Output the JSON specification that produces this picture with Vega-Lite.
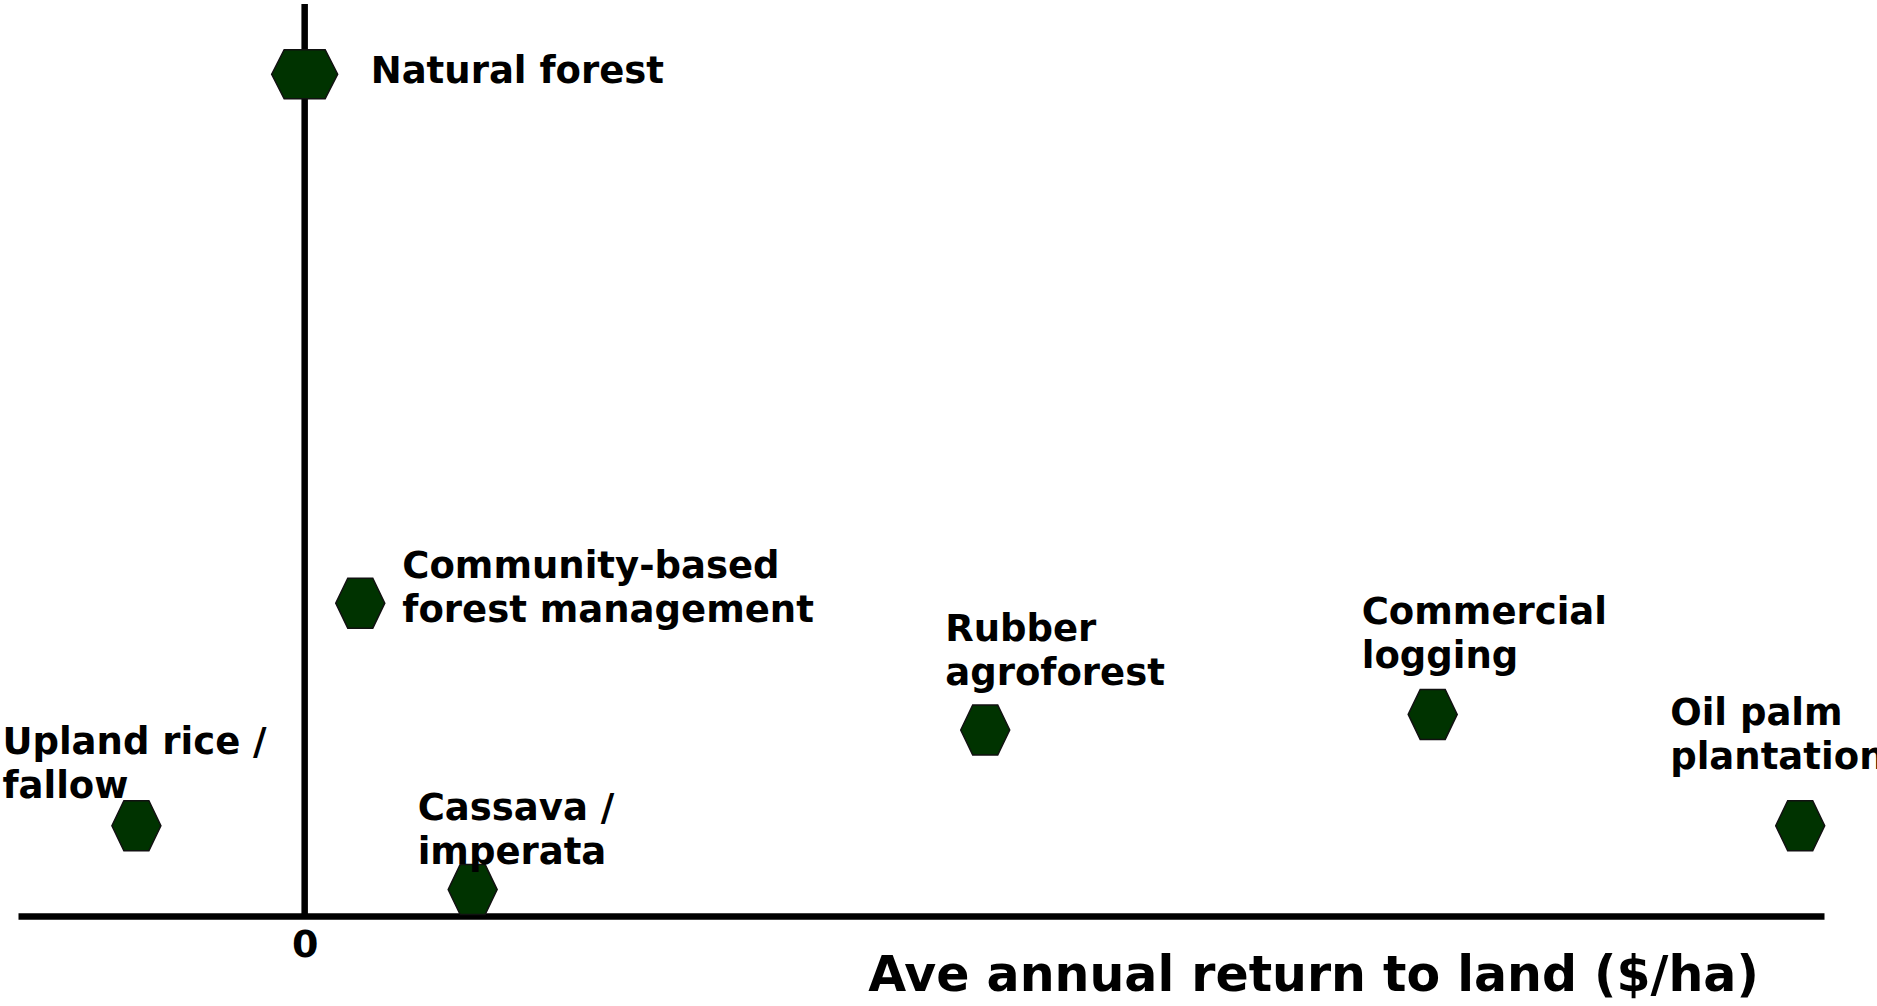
{
  "$schema": "https://vega.github.io/schema/vega-lite/v6.json",
  "width": 1806,
  "height": 912,
  "autosize": {"type": "none"},
  "padding": {"left": 18, "top": 4, "right": 53, "bottom": 90},
  "background": "white",
  "config": {
    "view": {"stroke": null},
    "font": "DejaVu Sans",
    "text": {"font": "DejaVu Sans", "fontWeight": "bold", "fontSize": 37, "lineBreak": "\n", "lineHeight": 44, "align": "left", "baseline": "middle", "color": "black"}
  },
  "data": {
    "values": [
      {"name": "Natural forest", "label": "Natural forest", "x": 0, "y": 92.3},
      {"name": "Community", "label": "Community-based\nforest management", "x": 19.4, "y": 34.3},
      {"name": "Upland", "label": "Upland rice /\nfallow", "x": -58.7, "y": 9.9},
      {"name": "Cassava", "label": "Cassava /\nimperata", "x": 58.6, "y": 2.9},
      {"name": "Rubber", "label": "Rubber\nagroforest", "x": 237.4, "y": 20.4},
      {"name": "Commercial", "label": "Commercial\nlogging", "x": 393.5, "y": 22.1},
      {"name": "Oil palm", "label": "Oil palm\nplantation", "x": 521.7, "y": 9.9}
    ]
  },
  "layer": [
    {
      "data": {"values": [{}]},
      "mark": {"type": "rule", "strokeWidth": 6.5, "color": "black"},
      "encoding": {
        "x": {"datum": 0, "type": "quantitative", "scale": {"domain": [-100, 530], "nice": false, "zero": false},
          "axis": {"values": [0], "title": "Ave annual return to land ($/ha)", "domainColor": "black", "domainWidth": 6.5, "ticks": false, "grid": false,
            "labelFontSize": 38, "labelFont": "DejaVu Sans", "labelFontWeight": "bold", "labelColor": "black", "labelPadding": 10,
            "titleFont": "DejaVu Sans", "titleFontSize": 49, "titleFontWeight": "bold", "titleColor": "black", "titleX": 1295, "titleY": 59, "titleAlign": "center", "titleBaseline": "middle"}}
      }
    },
    {
      "transform": [{"filter": "datum.name !== 'Natural forest'"}],
      "mark": {"type": "point", "shape": "M-0.98,0L-0.5,-1L0.5,-1L0.98,0L0.5,1L-0.5,1Z", "size": 2500, "filled": true, "fill": "#003300", "stroke": "#111111", "strokeWidth": 1.5, "opacity": 1},
      "encoding": {
        "x": {"field": "x", "type": "quantitative"},
        "y": {"field": "y", "type": "quantitative", "scale": {"domain": [0, 100], "nice": false}, "axis": null}
      }
    },
    {
      "transform": [{"filter": "datum.name === 'Natural forest'"}],
      "mark": {"type": "point", "shape": "M-1.32,0L-0.82,-0.98L0.82,-0.98L1.32,0L0.82,0.98L-0.82,0.98Z", "size": 2500, "filled": true, "fill": "#003300", "stroke": "#111111", "strokeWidth": 1.5, "opacity": 1},
      "encoding": {
        "x": {"field": "x", "type": "quantitative"},
        "y": {"field": "y", "type": "quantitative"}
      }
    },
    {
      "transform": [{"filter": "datum.name === 'Natural forest'"}],
      "mark": {"type": "text", "dx": 66, "dy": -2},
      "encoding": {"x": {"field": "x", "type": "quantitative"}, "y": {"field": "y", "type": "quantitative"}, "text": {"field": "label"}}
    },
    {
      "transform": [{"filter": "datum.name === 'Community'"}],
      "mark": {"type": "text", "dx": 42, "dy": -36},
      "encoding": {"x": {"field": "x", "type": "quantitative"}, "y": {"field": "y", "type": "quantitative"}, "text": {"field": "label"}}
    },
    {
      "transform": [{"filter": "datum.name === 'Upland'"}],
      "mark": {"type": "text", "dx": -134, "dy": -83},
      "encoding": {"x": {"field": "x", "type": "quantitative"}, "y": {"field": "y", "type": "quantitative"}, "text": {"field": "label"}}
    },
    {
      "transform": [{"filter": "datum.name === 'Cassava'"}],
      "mark": {"type": "text", "dx": -55, "dy": -81},
      "encoding": {"x": {"field": "x", "type": "quantitative"}, "y": {"field": "y", "type": "quantitative"}, "text": {"field": "label"}}
    },
    {
      "transform": [{"filter": "datum.name === 'Rubber'"}],
      "mark": {"type": "text", "dx": -40, "dy": -100},
      "encoding": {"x": {"field": "x", "type": "quantitative"}, "y": {"field": "y", "type": "quantitative"}, "text": {"field": "label"}}
    },
    {
      "transform": [{"filter": "datum.name === 'Commercial'"}],
      "mark": {"type": "text", "dx": -71, "dy": -101},
      "encoding": {"x": {"field": "x", "type": "quantitative"}, "y": {"field": "y", "type": "quantitative"}, "text": {"field": "label"}}
    },
    {
      "transform": [{"filter": "datum.name === 'Oil palm'"}],
      "mark": {"type": "text", "dx": -130, "dy": -112},
      "encoding": {"x": {"field": "x", "type": "quantitative"}, "y": {"field": "y", "type": "quantitative"}, "text": {"field": "label"}}
    }
  ]
}
